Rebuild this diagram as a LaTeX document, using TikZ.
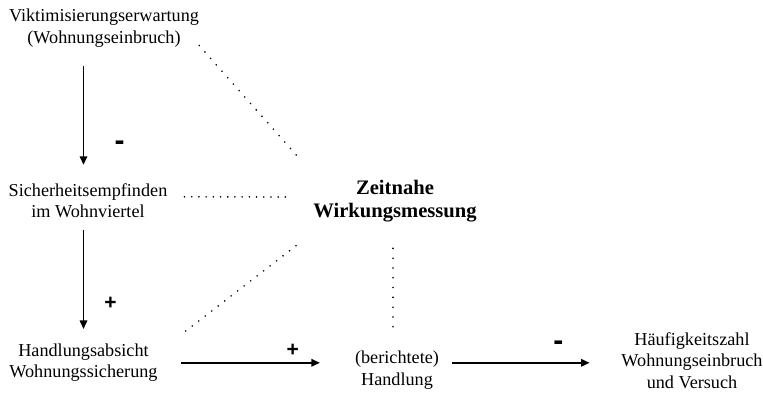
\documentclass[tikz,border=0pt]{standalone}
\usepackage{fontspec}
\setmainfont{Liberation Serif}
\newfontfamily\signfont{Liberation Sans}
\usetikzlibrary{arrows.meta}

\begin{document}
\begin{tikzpicture}[x=1pt, y=-1pt]
        \tikzset{factor/.style={align=center, inner sep=0pt, font=\fontsize{18.2}{21.5}\selectfont}}
        \tikzset{effect/.style={-{Triangle[length=8.5pt, width=7.5pt]}, line width=1.6pt}}
        \tikzset{sign/.style={font=\signfont\bfseries\fontsize{21}{21}\selectfont}}
        \tikzset{minus/.style={font=\signfont\bfseries\fontsize{30}{30}\selectfont}}
        \tikzset{dots/.style={line width=1.8pt, line cap=round, dash pattern=on 0pt off #1}, dots/.default=7.2pt}
        \useasboundingbox (0,0) rectangle (763,393);

        \node [factor] (vikt) at (104,28.3) {Viktimisierungserwartung\\(Wohnungseinbruch)};
        \node [factor] (sicher) at (88,200.8) {Sicherheitsempfinden\\im Wohnviertel};
        \node [factor] (hand) at (83.5,362.8) {Handlungsabsicht\\Wohnungssicherung};
        \node [factor] (ber) at (397,370) {(berichtete)\\Handlung};
        \node [factor] (haeuf) at (692,360.5) {Häufigkeitszahl\\Wohnungseinbruch\\und Versuch};
        \node [factor, font=\bfseries\fontsize{20.6}{23}\selectfont] (zeit) at (395,201.5) {Zeitnahe\\Wirkungsmessung};

        \draw [effect, shorten <=18pt, shorten >=18.5pt] (vikt.south -| hand) -- node [minus, pos=.72, xshift=36pt] {-} (sicher.north -| hand);
        \draw [effect, shorten <=12pt, shorten >=14.6pt] (sicher.south -| hand) -- node [sign, pos=.68, xshift=27pt] {+} (hand.north);
        \draw [effect, shorten <=23.7pt, shorten >=35pt] (hand.east) -- node [sign, pos=.685, yshift=12pt] {+} (ber.west |- hand);
        \draw [effect, shorten <=13pt, shorten >=31.7pt] (ber.east |- hand) -- node [minus, pos=.655, yshift=17pt] {-} (haeuf.west |- hand);

        \draw [dots=8.6pt] ([shift={(0,-2)}]vikt.south east) -- ([shift={(-13,-21)}]zeit.north west);
        \draw [dots] ([shift={(17,-4)}]sicher.east) -- ([shift={(-21,-4.5)}]zeit.west);
        \draw [dots=8.2pt] ([shift={(28,-12.6)}]hand.north east) -- ([shift={(-13,20)}]zeit.south west);
        \draw [dots=9.8pt] ([shift={(-4,-24)}]ber.north) -- ([shift={(-2,17)}]zeit.south);
\end{tikzpicture}
\end{document}
